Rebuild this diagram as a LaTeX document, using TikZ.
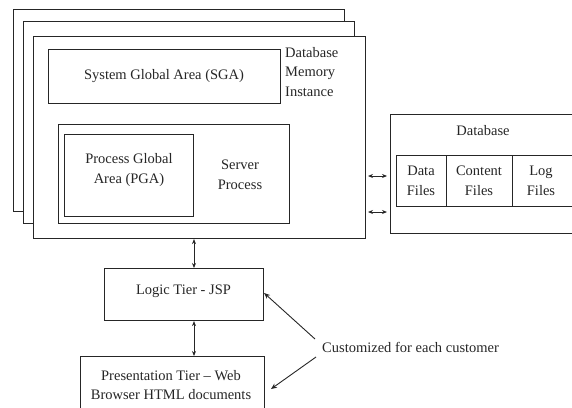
\documentclass[tikz,border=0pt]{standalone}
\usepackage{fontspec}
\setmainfont{Liberation Serif}
\usetikzlibrary{arrows.meta,calc}
\begin{document}
\begin{tikzpicture}[x=1pt,y=-1pt,
  box/.style={draw=black!85,line width=1.1pt,fill=white,inner sep=0pt,anchor=north west},
  lbl/.style={font=\fontsize{14.5}{19.5}\selectfont,text=black!85,align=center,inner sep=0pt},
  arr/.style={draw=black!85,line width=0.9pt,-{Stealth[length=6pt,width=5pt]}},
  darr/.style={draw=black!85,line width=0.9pt,{Stealth[length=5pt,width=4pt]}-{Stealth[length=5pt,width=4pt]}}]
\useasboundingbox (0,0) rectangle (572,407);
% stacked instance frames
\node[box,minimum width=331,minimum height=202] (f1) at (13,9) {};
\node[box,minimum width=331,minimum height=202] (f2) at (23,21) {};
\node[box,minimum width=332,minimum height=202] (f3) at (33,36) {};
\node[box,minimum width=232,minimum height=54] (sga) at (48,49) {};
\node[lbl] (sgat) at (164,76) {System Global Area (SGA)};
\node[lbl,align=left,anchor=west] (dmi) at (285,72) {Database\\Memory\\Instance};
\node[box,minimum width=231,minimum height=99] (srv) at (58,124) {};
\node[box,minimum width=129,minimum height=82] (pga) at (64,134) {};
\node[lbl] (pgat) at (129,170) {Process Global\\Area (PGA)};
\node[lbl] (srvt) at (240,175) {Server\\Process};
% database
\node[box,minimum width=190,minimum height=119] (db) at (390,114) {};
\node[lbl] (dbt) at (483,131) {Database};
\node[box,minimum width=50,minimum height=51] (c1) at (396,155) {};
\node[box,minimum width=66,minimum height=51] (c2) at (446,155) {};
\node[box,minimum width=68,minimum height=51] (c3) at (512,155) {};
\node[lbl] at (421,181) {Data\\Files};
\node[lbl] at (479,181) {Content\\Files};
\node[lbl] at (541,181) {Log\\Files};
% tiers
\node[box,minimum width=159,minimum height=52] (logic) at (104,268) {};
\node[lbl] (logict) at (183.5,291) {Logic Tier - JSP};
\node[box,minimum width=184,minimum height=70] (pres) at (80,356) {};
\node[lbl] (prest) at (171,385) {Presentation Tier -- Web\\Browser HTML documents};
\node[lbl,anchor=west] (cust) at (322,347) {Customized for each customer};
% connectors
\coordinate (ax) at (194,0);
\draw[darr] (f3.south -| ax) -- (logic.north -| ax);
\draw[darr] (logic.south -| ax) -- (pres.north -| ax);
\coordinate (d1a) at (368,176); \coordinate (d1b) at (387,176);
\coordinate (d2a) at (368,212); \coordinate (d2b) at (387,212);
\draw[darr] (d1a) -- (d1b);
\draw[darr] (d2a) -- (d2b);
\coordinate (cu1) at (315,339); \coordinate (cu2) at (316,357);
\coordinate (pa) at (271,389);
\draw[arr] (cu1) -- (logic.east |- 0,293);
\draw[arr] (cu2) -- (pa);
\end{tikzpicture}
\end{document}
